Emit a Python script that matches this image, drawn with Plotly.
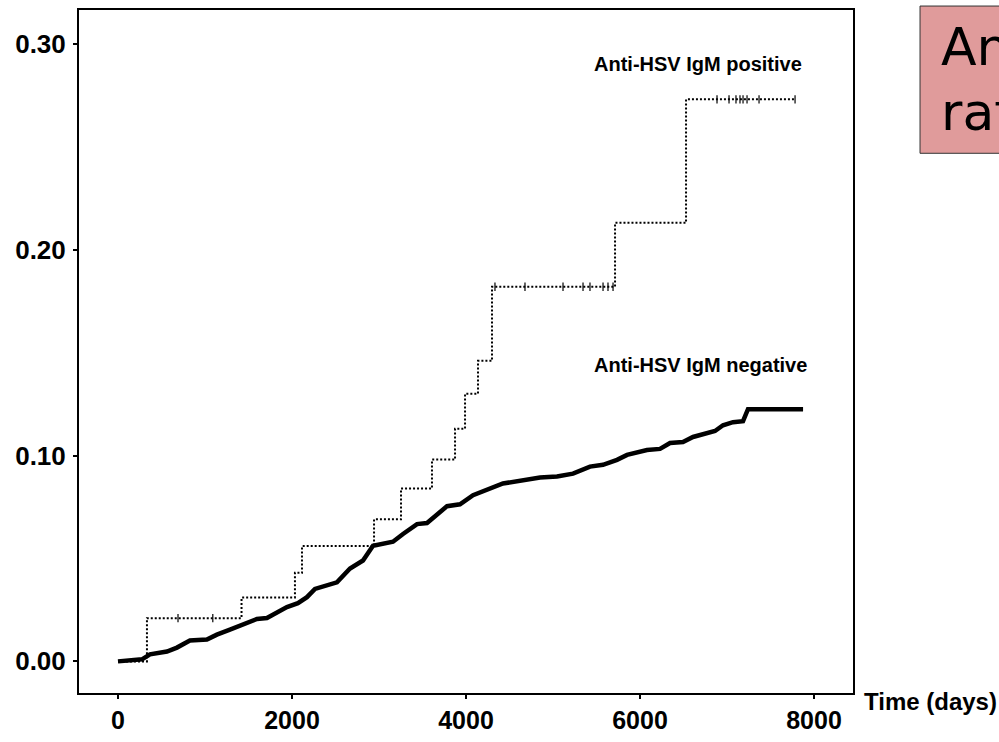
import bisect
import plotly.graph_objects as go

# Cumulative incidence, anti-HSV IgM negative group (time in days, proportion)
neg_days = [0, 276, 368, 563, 678, 827, 1022, 1137, 1287, 1436, 1597, 1712, 1827,
            1942, 2068, 2172, 2264, 2517, 2667, 2816, 2931, 3161, 3276, 3437, 3552,
            3782, 3931, 4081, 4425, 4851, 5046, 5230, 5425, 5575, 5736, 5851, 6080,
            6230, 6345, 6494, 6609, 6862, 6954, 7069, 7184, 7241, 7874]
neg_vals = [0.000, 0.001, 0.0034, 0.0048, 0.0067, 0.0101, 0.0106, 0.0130, 0.0154,
            0.0178, 0.0206, 0.0211, 0.0235, 0.0264, 0.0283, 0.0312, 0.0352, 0.0384,
            0.0451, 0.0490, 0.0562, 0.0581, 0.0619, 0.0667, 0.0672, 0.0754, 0.0763,
            0.0807, 0.0864, 0.0893, 0.0898, 0.0912, 0.0946, 0.0955, 0.0979, 0.1003,
            0.1027, 0.1032, 0.1061, 0.1066, 0.1090, 0.1119, 0.1147, 0.1162, 0.1167,
            0.1225, 0.1225]

# Cumulative incidence, anti-HSV IgM positive group
pos_days = [0, 333, 1420, 2034, 2115, 2943, 3253, 3609, 3874, 3989, 4138, 4299,
            5713, 6529, 7782]
pos_vals = [0.000, 0.021, 0.031, 0.043, 0.056, 0.069, 0.084, 0.098, 0.113, 0.130,
            0.146, 0.182, 0.213, 0.273, 0.273]

# Censored observations in the positive group
pos_censor_days = [690, 1090, 4333, 4678, 5115, 5345, 5425, 5575, 5632, 5690,
                   6885, 7023, 7103, 7149, 7184, 7230, 7368, 7782]

x_ticks = [0, 2000, 4000, 6000, 8000]
y_ticks = [0.0, 0.1, 0.2, 0.3]

label_pos = "Anti-HSV IgM positive"
label_neg = "Anti-HSV IgM negative"
x_title = "Time (days)"
box_lines = ["Anti-HSV IgM", "rate"]


def step_value(days, vals, t):
    i = bisect.bisect_right(days, t) - 1
    return vals[max(i, 0)]


censor_vals = [step_value(pos_days, pos_vals, t) for t in pos_censor_days]

bold = dict(family="Liberation Sans, Arial, sans-serif", color="black")

fig = go.Figure()

# Negative group: many small events, drawn as a dense jagged curve
fig.add_trace(go.Scatter(
    x=neg_days, y=neg_vals, mode="lines",
    line=dict(color="black", width=4.5), hoverinfo="skip", showlegend=False,
))
# Positive group: dotted Kaplan-Meier style step curve
fig.add_trace(go.Scatter(
    x=pos_days, y=pos_vals, mode="lines", line_shape="hv",
    line=dict(color="black", width=2, dash="2px,2px"), hoverinfo="skip",
    showlegend=False,
))
fig.add_trace(go.Scatter(
    x=pos_censor_days, y=censor_vals, mode="markers",
    marker=dict(symbol="line-ns", size=6, line=dict(color="black", width=1.2)),
    hoverinfo="skip", showlegend=False,
))

fig.add_annotation(x=5448, y=0.2904, xref="x", yref="y", xanchor="left",
                   yanchor="middle", text="<b>%s</b>" % label_pos, showarrow=False,
                   font=dict(size=20, **bold))
fig.add_annotation(x=5448, y=0.144, xref="x", yref="y", xanchor="left",
                   yanchor="middle", text="<b>%s</b>" % label_neg, showarrow=False,
                   font=dict(size=20, **bold))

# x-axis title placed to the right of the frame
fig.add_annotation(x=1.012, y=-0.012, xref="paper", yref="paper", xanchor="left",
                   yanchor="middle", text="<b>%s</b>" % x_title, showarrow=False,
                   font=dict(size=24, **bold))

# Highlight box on the right-hand side
fig.add_shape(type="rect", xref="paper", yref="paper",
              x0=1.0866, x1=1.21, y0=0.7902, y1=1.0058,
              fillcolor="#E09B9B", line=dict(color="#333333", width=1))
fig.add_annotation(x=1.111, y=0.946, xref="paper", yref="paper", xanchor="left",
                   yanchor="middle", text=box_lines[0], showarrow=False,
                   font=dict(size=52, family="DejaVu Sans", color="black"))
fig.add_annotation(x=1.111, y=0.851, xref="paper", yref="paper", xanchor="left",
                   yanchor="middle", text=box_lines[1], showarrow=False,
                   font=dict(size=52, family="DejaVu Sans", color="black"))

axis_common = dict(
    showline=True, linecolor="black", linewidth=2, mirror=True,
    showgrid=False, zeroline=False, ticks="outside", ticklen=4,
    tickwidth=1.5, tickcolor="black",
)

fig.update_xaxes(range=[-448, 8448], tickvals=x_ticks,
                 ticktext=["<b>%d</b>" % v for v in x_ticks],
                 tickfont=dict(size=25, **bold), **axis_common)
fig.update_yaxes(range=[-0.01536, 0.3164], tickvals=y_ticks,
                 ticktext=["<b>%.2f</b>" % v for v in y_ticks],
                 tickfont=dict(size=26, **bold), ticklabelstandoff=2,
                 **axis_common)

fig.update_layout(
    width=999, height=742,
    margin=dict(l=79, r=146, t=8, b=43, pad=0),
    plot_bgcolor="white", paper_bgcolor="white",
)

fig.write_html("out.html")
